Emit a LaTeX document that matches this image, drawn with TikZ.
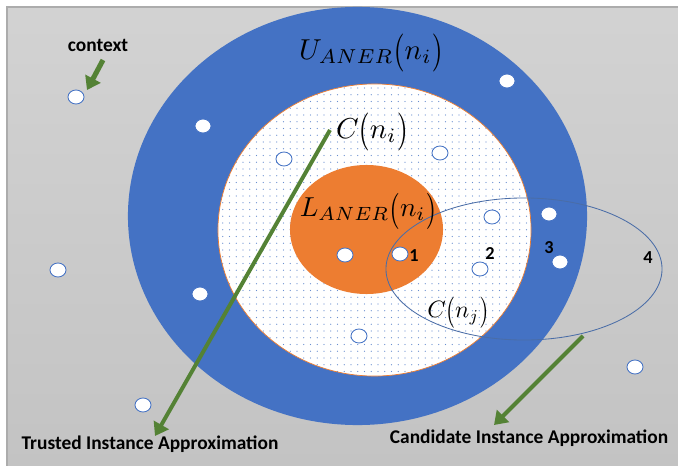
\documentclass[tikz,border=0pt]{standalone}
\usepackage{fontspec}
\newfontfamily\labelfont{Carlito}
\usetikzlibrary{arrows.meta,patterns.meta,shapes.geometric}

\definecolor{outerblue}{HTML}{4472C4}
\definecolor{innerorange}{HTML}{ED7D31}
\definecolor{arrowgreen}{HTML}{548235}
\definecolor{ringline}{HTML}{4A6DA7}

% tall parentheses round a set argument
\newcommand{\tallpar}[1]{\raisebox{-1.2pt}{\scalebox{1}[1.32]{$#1$}}}
\newcommand{\setarg}[1]{\mathopen{\tallpar{(}}#1\mathclose{\tallpar{)}}}

\begin{document}
\begin{tikzpicture}[x=0.025cm, y=-0.025cm,
  inst/.style={ellipse, draw=outerblue, fill=white, line width=0.6pt,
    minimum width=0.4cm, minimum height=0.35cm, inner sep=0pt},
  pointer/.style={draw=arrowgreen, line width=2.8pt,
    -{Triangle[width=0.42cm,length=0.32cm]}},
  tag/.style={font=\labelfont\bfseries\fontsize{13.8}{16}\selectfont, inner sep=0pt},
  num/.style={font=\labelfont\bfseries\fontsize{13}{15}\selectfont, inner sep=0pt},
  setname/.style={inner sep=0pt, scale=2.05, transform shape}]
  \useasboundingbox (0,0) rectangle (678,466);

  % Background
  \shade[top color=gray!35, bottom color=gray!47] (7,7) rectangle (678,466);
  \draw[gray!65, line width=0.8pt] (7,466) -- (7,7) -- (678,7);

  % Regions
  \fill[outerblue] (357.5,216) ellipse [x radius=5.7375cm, y radius=5.225cm];
  \draw[innerorange, line width=0.5pt, preaction={fill=white},
    pattern={Dots[distance=4.8pt, radius=0.45pt]}, pattern color=outerblue!80]
    (374.5,230) ellipse [x radius=3.9125cm, y radius=3.65cm];
  \fill[innerorange] (366.5,229.5) ellipse [x radius=1.9125cm, y radius=1.6125cm];
  \draw[ringline, line width=0.6pt] (524,269) ellipse [x radius=3.45cm, y radius=1.775cm];

  % Set names
  \node[setname] (upper) at (371,53) {$U_{ANER}\setarg{n_i}$};
  \node[setname] (cni) at (372,132) {$C\setarg{n_i}$};
  \node[setname, scale=0.95] (lower) at (368,211) {$L_{ANER}\setarg{n_i}$};
  \node[setname, scale=0.82] (cnj) at (458,313) {$C\setarg{n_j}$};

  % Instances
  \node[inst] (ctx) at (76,97) {};
  \node[inst] (a1) at (203,126) {};
  \node[inst] (a2) at (284,159) {};
  \node[inst] (a3) at (440,153) {};
  \node[inst] (a4) at (507,81) {};
  \node[inst] (a5) at (549,214) {};
  \node[inst] (a6) at (492,217) {};
  \node[inst] (a7) at (345,255) {};
  \node[inst] (one) at (400,254) {};
  \node[inst] (two) at (480,269) {};
  \node[inst] (three) at (560,262) {};
  \node[inst] (a8) at (58,270) {};
  \node[inst] (a9) at (200,294) {};
  \node[inst] (a10) at (359,336) {};
  \node[inst] (a11) at (635,367) {};
  \node[inst] (a12) at (143,405) {};

  \node[num] at (414,256) {1};
  \node[num] at (490,254) {2};
  \node[num] at (549,248) {3};
  \node[num] at (648,258) {4};

  % Labels
  \node[tag] (context) at (98,45) {context};
  \node[tag] (trusted) at (150,444) {Trusted Instance Approximation};
  \node[tag] (candidate) at (529,438) {Candidate Instance Approximation};

  % Arrows
  \coordinate (ctxtail) at (103,60);
  \coordinate (ctxtip) at (87,90);
  \coordinate (trtail) at (330,130);
  \coordinate (trtip) at (155,436);
  \coordinate (catail) at (583,336);
  \coordinate (catip) at (494,425);
  \draw[pointer, line width=3.6pt] (ctxtail) -- (ctxtip);
  \draw[pointer] (trtail) -- (trtip);
  \draw[pointer] (catail) -- (catip);
\end{tikzpicture}
\end{document}
